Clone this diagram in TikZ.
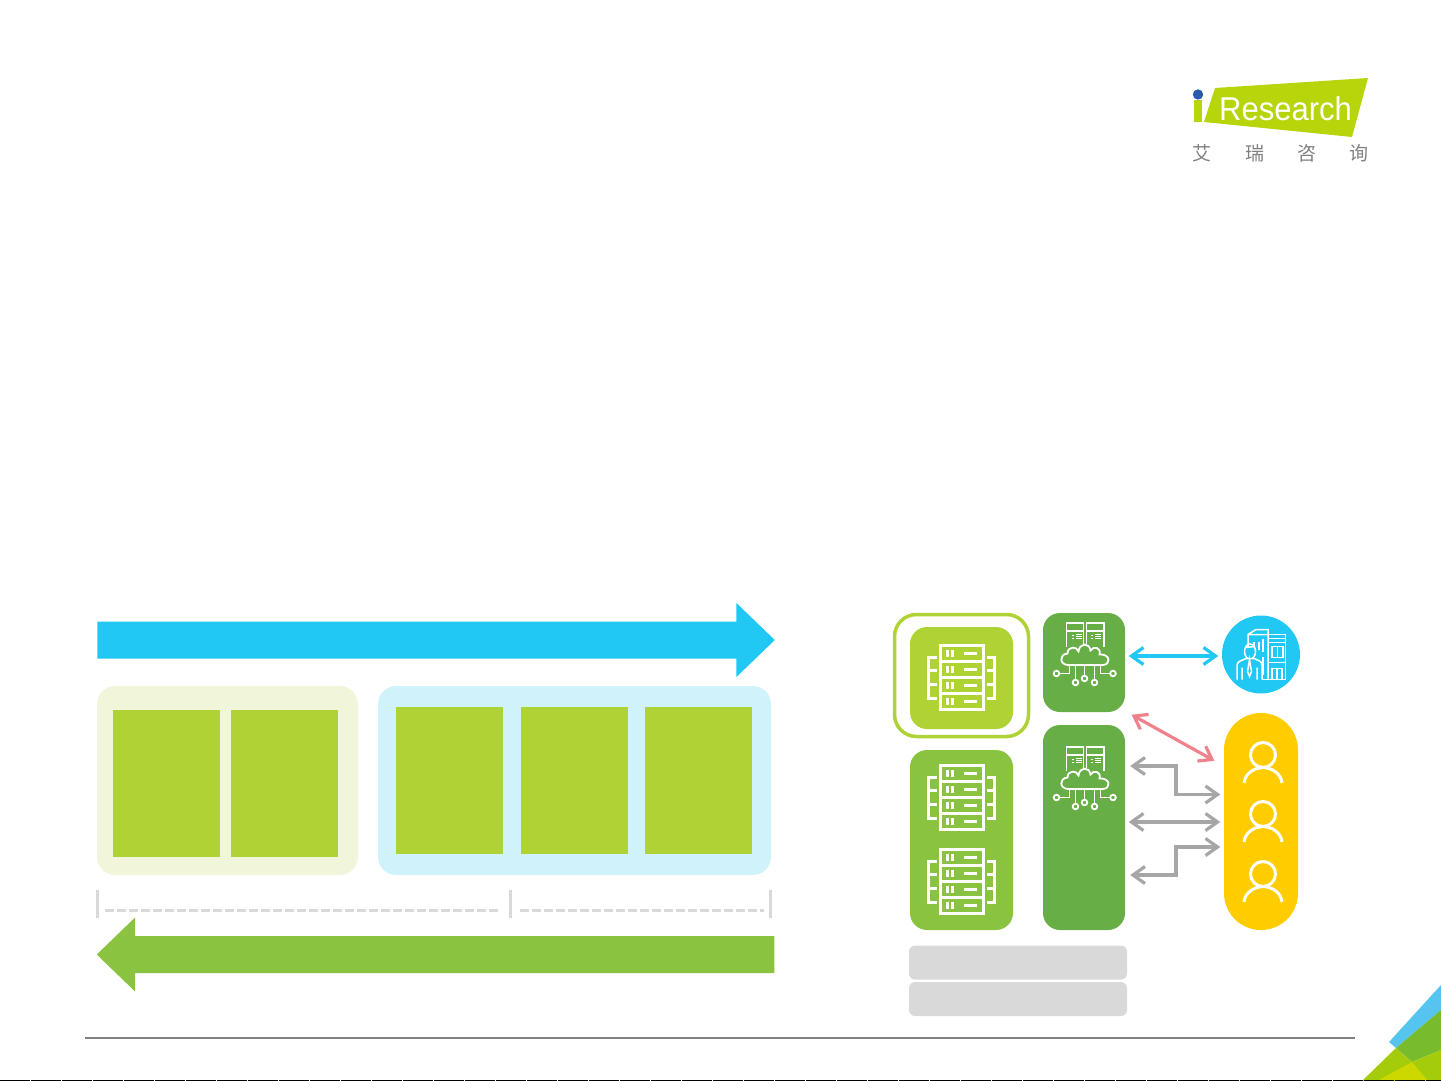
\documentclass[tikz,border=0pt]{standalone}
\usepackage{fontspec}
\usepackage{tikz}
\setmainfont{Liberation Sans}
\newfontfamily\cjkfont{Noto Sans CJK SC}
\usetikzlibrary{arrows.meta}
\usetikzlibrary{shapes.arrows}

\definecolor{skyblue}{RGB}{32,200,243}
\definecolor{leafgreen}{RGB}{138,195,63}
\definecolor{limegreen}{RGB}{175,210,53}
\definecolor{darkgreen}{RGB}{102,174,69}
\definecolor{paleblue}{RGB}{208,243,251}
\definecolor{palelime}{RGB}{241,246,218}
\definecolor{pinkline}{RGB}{240,130,140}
\definecolor{greyline}{RGB}{166,166,166}
\definecolor{barfill}{RGB}{217,217,217}
\definecolor{useryellow}{RGB}{255,204,0}
\definecolor{logolime}{RGB}{184,212,10}
\definecolor{logoblue}{RGB}{43,91,168}
\definecolor{cornerblue}{RGB}{85,196,238}
\definecolor{cornergreen}{RGB}{120,188,45}
\definecolor{cornerlime}{RGB}{165,204,10}
\definecolor{corneryellow}{RGB}{205,216,0}

\tikzset{
  panel/.style={fill=#1, rounded corners=18pt, inner sep=0pt},
  column/.style={fill=limegreen, inner sep=0pt, minimum width=107pt, minimum height=147pt},
  tile/.style={fill=#1, rounded corners=17pt, inner sep=0pt},
  greybar/.style={fill=barfill, rounded corners=6pt, inner sep=0pt, minimum width=218pt, minimum height=34pt},
  bigarrow/.style={single arrow, fill=#1, inner xsep=0pt, inner ysep=18.3pt, minimum width=74pt, minimum height=677.5pt,
    single arrow head extend=18.5pt, single arrow head indent=0pt, single arrow tip angle=88},
  link/.style={draw=#1, line width=3.2pt, {Straight Barb[length=12pt,width=17pt,line width=3.2pt]}-{Straight Barb[length=12pt,width=17pt,line width=3.2pt]},
    shorten <=3.5pt, shorten >=3.5pt},
  logochar/.style={text=black!50, font=\cjkfont\fontsize{19pt}{19pt}\selectfont, inner sep=0pt},
  serverpic/.pic={
    \begin{scope}[draw=white, line width=3pt]
      \draw (-21.5,-32) rectangle (21.5,32);
      \draw (-21.5,-16.5) -- (21.5,-16.5) (-21.5,-0.5) -- (21.5,-0.5) (-21.5,15.5) -- (21.5,15.5);
      \draw (-14,-28) -- (-14,-21) (-9,-28) -- (-9,-21) (2,-24.5) -- (15,-24.5);
      \draw (-14,-12) -- (-14,-5) (-9,-12) -- (-9,-5) (2,-8.5) -- (15,-8.5);
      \draw (-14,4) -- (-14,11) (-9,4) -- (-9,11) (2,7.5) -- (15,7.5);
      \draw (-14,20) -- (-14,27) (-9,20) -- (-9,27) (2,24) -- (15,24);
      \draw (-25,-20) -- (-33,-20) -- (-33,20.5) -- (-25,20.5) (-33,-7) -- (-25,-7) (-33,7) -- (-25,7);
      \draw (25,-20) -- (33,-20) -- (33,20.5) -- (25,20.5) (33,-7) -- (25,-7) (33,7) -- (25,7);
    \end{scope}
  },
  cloudpic/.pic={
    \begin{scope}[draw=white, line width=1.8pt]
      \draw (-18,-8) -- (-18,-31.5) -- (-1,-31.5) -- (-1,-11) (-18,-23.5) -- (-1,-23.5);
      \draw (2,-11) -- (2,-31.5) -- (19.5,-31.5) -- (19.5,-8) (2,-23.5) -- (19.5,-23.5);
      \draw (-13,-19) -- (-11,-19) (-13,-16) -- (-11,-16) (-9,-20) -- (-3,-20) (-9,-18) -- (-3,-18) (-9,-16) -- (-3,-16);
      \draw (6,-19) -- (8,-19) (6,-16) -- (8,-16) (10,-20) -- (16,-20) (10,-18) -- (16,-18) (10,-16) -- (16,-16);
      \draw (-16,10.5) .. controls (-25,10.5) and (-26,0) .. (-17,-1) .. controls (-17,-8) and (-8,-9) .. (-6,-3)
        .. controls (-5,-12) and (5,-12) .. (6,-4) .. controls (9,-9) and (17,-7) .. (15,0)
        .. controls (26,-1) and (27,10.5) .. (18,10.5) -- cycle;
      \draw (-15,10.5) -- (-15,19) -- (-25,19) (-9,10.5) -- (-9,25) (0,10.5) -- (0,21) (10,10.5) -- (10,25);
      \draw (16,10.5) -- (16,19) -- (25.5,19);
      \draw (-28,19) circle (2.8) (-9,28) circle (2.8) (0,24) circle (2.8) (10,28) circle (2.8) (28.5,19) circle (2.8);
    \end{scope}
  },
  personpic/.pic={
    \begin{scope}[draw=white, line width=3pt]
      \draw (0,0) circle (12.5);
      \draw (-19,28) .. controls (-18,19) and (-10,13) .. (0,12.5) .. controls (10,13) and (18,19) .. (19,28);
    \end{scope}
  },
  clientpic/.pic={
    \begin{scope}[draw=white, line width=1.5pt]
      \draw (-13,-8) -- (-13,-20) -- (-5,-25) -- (7,-25) -- (7,24) (-13,-20) -- (7,-20);
      \draw (7,-16) -- (24.5,-16) -- (24.5,25) -- (2,25) (7,-12) -- (24.5,-12) (7,-20) -- (24.5,-20) -- (24.5,-16);
      \draw (11,-8) rectangle (22,3) (16.5,-8) -- (16.5,3) (7,8) -- (24.5,8);
      \draw (11,25) -- (11,14) -- (21,14) -- (21,25) (16,14) -- (16,25);
      \draw (-7,-13) -- (-7,-9) (-2,-13) -- (-2,-5) (2,-16) -- (2,-3) (2,2) -- (2,20);
      \draw (-11,-3) ellipse (5.5 and 7.5) (-16,-7) -- (-6,-8);
      \draw[fill=skyblue] (-24,25) -- (-24,11) .. controls (-24,6) and (-18,6) .. (-15,4) -- (-7,4) .. controls (-3,6) and (1,6) .. (1,11) -- (1,25);
      \draw (-19,25) -- (-19,13) (-4,25) -- (-4,13) (-11.5,5) -- (-13.5,17) -- (-11.5,22) -- (-9.5,17) -- cycle;
    \end{scope}
  }
}

\begin{document}
\begin{tikzpicture}[x=1pt,y=-1pt]
  \useasboundingbox (0,0) rectangle (1441,1081);

  % left part
  \node[bigarrow=skyblue, anchor=west] at (97,640) (flowtop){};
  \node[bigarrow=leafgreen, anchor=east, shape border rotate=180] at (774.5,954.5) (flowbottom){};

  \node[panel=palelime, minimum width=261pt, minimum height=189pt] at (227.5,780.5) (panelleft){};
  \node[panel=paleblue, minimum width=393pt, minimum height=189pt] at (574.5,780.5) (panelright){};
  \node[column] at (166.5,783.5) (colone){};
  \node[column] at (284.5,783.5) (coltwo){};
  \node[column] at (449.5,780.5) (colthree){};
  \node[column] at (574.5,780.5) (colfour){};
  \node[column] at (698.5,780.5) (colfive){};

  % bracket under the panels
  \coordinate (tickone) at (97.5,890);
  \coordinate (ticktwo) at (510.5,890);
  \coordinate (tickthree) at (770.5,890);
  \draw[barfill, line width=2.4pt] (tickone) -- ++(0,28) (ticktwo) -- ++(0,28) (tickthree) -- ++(0,28);
  \draw[barfill, line width=3pt, dash pattern=on 9pt off 3pt] ([xshift=7pt,yshift=-20.5pt]tickone) -- ([xshift=-11pt,yshift=-20.5pt]ticktwo);
  \draw[barfill, line width=3pt, dash pattern=on 9pt off 3pt] ([xshift=9pt,yshift=-20.5pt]ticktwo) -- ([xshift=-7pt,yshift=-20.5pt]tickthree);

  % right part
  \node[draw=limegreen, fill=white, line width=3.5pt, rounded corners=22pt, minimum width=134pt, minimum height=122pt, inner sep=0pt] at (961.5,675.5) (frame){};
  \node[tile=limegreen, minimum width=103pt, minimum height=102pt] at (961.5,678) (mainserver){};
  \node[tile=leafgreen, minimum width=103pt, minimum height=180pt] at (961.5,840) (otherserver){};
  \node[tile=darkgreen, minimum width=82pt, minimum height=99pt] at (1084,662.5) (cloudtop){};
  \node[tile=darkgreen, minimum width=82pt, minimum height=205pt] at (1084,827.5) (cloudlow){};
  \node[circle, fill=skyblue, minimum size=78pt, inner sep=0pt] at (1261,654.5) (client){};
  \node[fill=useryellow, rounded corners=36.9pt, minimum width=74pt, minimum height=217pt, inner sep=0pt] at (1261,821.5) (users){};
  \node[greybar] at (1018,962.5) (barone){};
  \node[greybar] at (1018,999) (bartwo){};

  \pic at (961.8,677.5) {serverpic};
  \pic at (961.8,797.5) {serverpic};
  \pic at (961.8,881.7) {serverpic};
  \pic at (1084.5,654.5) {cloudpic};
  \pic at (1084.5,778.5) {cloudpic};
  \pic at (1261,654.5) {clientpic};
  \pic at (1263,755) {personpic};
  \pic at (1263,814) {personpic};
  \pic at (1263,874) {personpic};

  % connectors
  \coordinate (bluelevel) at (1176,656);
  \coordinate (pinkstart) at (1128.5,713);
  \coordinate (pinkend) at (1217.5,762.5);
  \coordinate (greyone) at (1176,766);
  \coordinate (greyonemid) at (1176,794.5);
  \coordinate (greytwo) at (1176,822);
  \coordinate (greythree) at (1176,875);
  \coordinate (greythreemid) at (1176,847);

  \draw[link=skyblue] (cloudtop.east |- bluelevel) -- (client.west |- bluelevel);
  \draw[link=pinkline] (pinkstart) -- (pinkend);
  \draw[link=greyline, shorten <=5pt] (cloudlow.east |- greyone) -- (greyone) -- (greyonemid) -- (users.west |- greyonemid);
  \draw[link=greyline] (cloudlow.east |- greytwo) -- (users.west |- greytwo);
  \draw[link=greyline, shorten <=5pt] (cloudlow.east |- greythree) -- (greythree) -- (greythreemid) -- (users.west |- greythreemid);

  % logo
  \fill[logolime] (1215,88) -- (1368,78) -- (1352,137) -- (1204,122) -- cycle;
  \fill[logolime] (1193.5,100) rectangle (1202,122);
  \fill[logoblue] (1198,94.5) circle (5.2);
  \node[text=white, font=\fontsize{33pt}{33pt}\selectfont, inner sep=0pt, anchor=base west, xscale=0.94] at (1219,120) (logotext){Research};
  \node[logochar] at (1202,153) (charone){艾};
  \node[logochar] at (1255,153) (chartwo){瑞};
  \node[logochar] at (1307,153) (charthree){咨};
  \node[logochar] at (1359,153) (charfour){询};

  % footer
  \draw[black!50, line width=2pt] (85,1038) -- (1355,1038);
  \fill[cornerblue] (1441,985) -- (1389,1042) -- (1396,1048) -- (1441,1010) -- cycle;
  \fill[cornergreen] (1396,1048) -- (1441,1010) -- (1441,1050) -- (1412,1062) -- cycle;
  \fill[cornerlime] (1396,1048) -- (1412,1062) -- (1441,1050) -- (1441,1081) -- (1362,1081) -- cycle;
  \fill[corneryellow] (1377,1081) -- (1412,1062) -- (1428,1081) -- cycle;
  \draw[black, line width=1pt, dash pattern=on 30pt off 1pt] (0,1080.5) -- (1441,1080.5);
\end{tikzpicture}
\end{document}
